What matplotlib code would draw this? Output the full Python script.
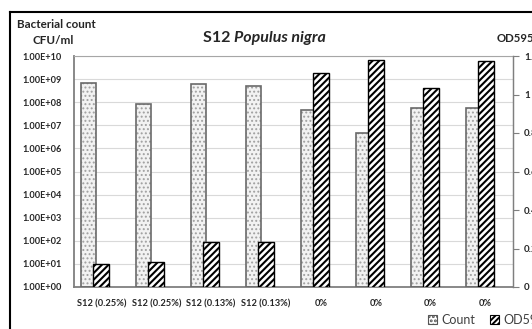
import matplotlib
matplotlib.use("Agg")
import matplotlib.pyplot as plt
from matplotlib.patches import Patch
from matplotlib.lines import Line2D
import numpy as np

categories = ["S12 (0.25%)", "S12 (0.25%)", "S12 (0.13%)", "S12 (0.13%)",
              "0%", "0%", "0%", "0%"]
count_cfu = [6.8e8, 8.3e7, 6.4e8, 5.1e8, 4.7e7, 4.5e6, 5.6e7, 5.8e7]
od595 = [0.12, 0.13, 0.232, 0.232, 1.113, 1.18, 1.032, 1.174]
count_ticks = [10.0 ** k for k in range(0, 11)]
od_ticks = [0, 0.2, 0.4, 0.6, 0.8, 1.0, 1.2]
od_tick_labels = ["0", "0.2", "0.4", "0.6", "0.8", "1", "1.2"]

plt.rcParams["font.family"] = ["Lato", "DejaVu Sans"]
plt.rcParams["hatch.linewidth"] = 1.4

W, H = 532, 329
fig = plt.figure(figsize=(W / 100, H / 100), dpi=100)
fig.patch.set_facecolor("white")

ax = fig.add_axes([74 / W, 1 - 287 / H, (513 - 74) / W, (287 - 56) / H])
ax2 = ax.twinx()

x = np.arange(len(categories))
grey = "#7f7f7f"

# bacterial count bars (stippled)
with plt.rc_context({"hatch.linewidth": 0.9}):
    ax.bar(x - 0.228, count_cfu, width=0.273, bottom=1, facecolor="#f2f2f2",
           edgecolor="#a0a0a0", hatch="....", linewidth=0, zorder=2)
ax.bar(x - 0.228, count_cfu, width=0.273, bottom=1, fill=False,
       edgecolor="#6a6a6a", linewidth=1.2, zorder=3)

ax.set_yscale("log")
ax.set_ylim(1, 1e10)
ax.set_xlim(-0.5, len(categories) - 0.5)
ax.set_yticks(count_ticks)
ax.set_yticklabels(["%.2E" % v for v in count_ticks])
ax.yaxis.set_minor_locator(matplotlib.ticker.NullLocator())
ax.set_xticks(x)
ax.set_xticklabels(categories)
ax.tick_params(axis="y", length=0, pad=9, labelsize=6.6)
ax.tick_params(axis="x", length=0, pad=9, labelsize=6.7)
for lab in ax.get_yticklabels() + ax.get_xticklabels():
    lab.set_fontweight("bold")
    lab.set_color("#262626")
ax.grid(axis="y", color="#d9d9d9", linewidth=0.8, zorder=0)
ax.set_axisbelow(True)
for side in ["left", "bottom"]:
    ax.spines[side].set_color(grey)
    ax.spines[side].set_linewidth(1.3)
ax.spines["top"].set_color("#a6a6a6")
ax.spines["right"].set_color("#a6a6a6")

# OD595 bars (diagonal hatch)
with plt.rc_context({"hatch.linewidth": 1.5}):
    ax2.bar(x, od595, width=0.29, facecolor="white", edgecolor="black",
            hatch="/////", linewidth=1.0, zorder=3)
ax2.set_ylim(0, 1.2)
ax2.set_yticks(od_ticks)
ax2.set_yticklabels(od_tick_labels)
ax2.tick_params(axis="y", length=4, width=0.8, color=grey, pad=4, labelsize=7)
for lab in ax2.get_yticklabels():
    lab.set_fontweight("bold")
    lab.set_color("#262626")
for side in ["left", "bottom", "top"]:
    ax2.spines[side].set_visible(False)
ax2.spines["right"].set_color(grey)
ax2.spines["right"].set_linewidth(1.0)

# axis titles and chart title
fig.text(17 / W, 1 - 24 / H, "Bacterial count", fontsize=8.4, fontweight="bold",
         ha="left", va="center", color="#262626")
fig.text(53 / W, 1 - 40 / H, "CFU/ml", fontsize=8.4, fontweight="bold",
         ha="center", va="center", color="#262626")
fig.text(497 / W, 1 - 38 / H, "OD595", fontsize=8.2, fontweight="bold",
         ha="left", va="center", color="#262626")
fig.text(234 / W, 1 - 38 / H, "S12 ", fontsize=11.5, fontweight="bold",
         ha="right", va="center", color="#262626")
fig.text(234 / W, 1 - 38 / H, "Populus nigra", fontsize=11.5, fontweight="bold",
         fontstyle="italic", ha="left", va="center", color="#262626")

# legend
handles = [
    Patch(facecolor="white", edgecolor="#555555", hatch="....", linewidth=0.8,
          label="Count"),
    Patch(facecolor="white", edgecolor="black", hatch="//////", linewidth=0.8,
          label="OD595"),
]
fig.legend(handles=handles, loc="center left", bbox_to_anchor=(428 / W, 1 - 320 / H),
           ncol=2, frameon=False, fontsize=9, handlelength=0.75, handleheight=0.75,
           handletextpad=0.3, columnspacing=1.2, labelcolor="#404040",
           borderpad=0, borderaxespad=0)

# outer chart frame (left and top edges visible)
fig.add_artist(Line2D([10 / W, 10 / W], [0, 1 - 12 / H], transform=fig.transFigure,
                      color="black", linewidth=1.5))
fig.add_artist(Line2D([10 / W, 1], [1 - 12 / H, 1 - 12 / H], transform=fig.transFigure,
                      color="black", linewidth=1.5))

fig.savefig("out.png", dpi=100, facecolor="white")
